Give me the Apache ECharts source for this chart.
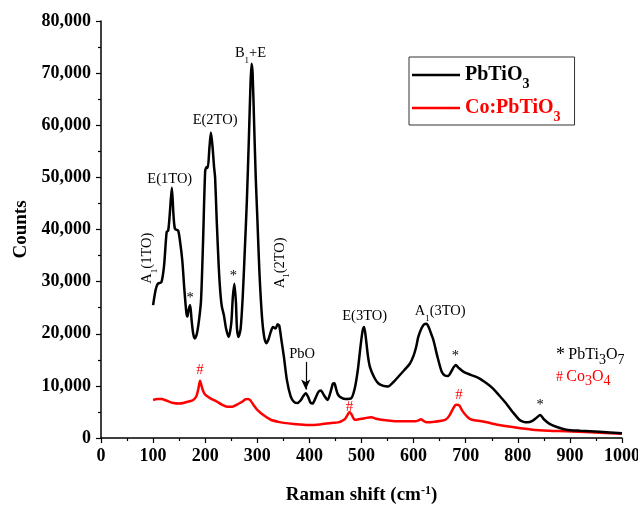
<!DOCTYPE html>
<html>
<head>
<meta charset="utf-8">
<script src="https://cdn.jsdelivr.net/npm/echarts@6/dist/echarts.min.js"></script>
<style>
  html, body { margin: 0; padding: 0; background: #fff; }
  #chart { width: 638px; height: 508px; }
</style>
</head>
<body>
<div id="chart"></div>
<script>
// Raman shift (cm-1) and counts
var pbtShift = [100,105,109,116,121,126,129,132,136,139,142,148,152,156,160,164,166,168,171,174,177,180,184,188,192,196,200,203,205,208,211,214,217,219,222,226,229,232,236,240,245,250,253,256,259,261,264,268,272,276,280,284,287,289,291,294,297,300,304,309,313,317,321,326,330,335,339,342,346,351,357,364,370,377,383,388,393,398,402,406,411,417,422,428,435,440,445,448,451,455,462,470,480,487,493,498,502,505,508,512,516,524,532,542,551,561,571,582,593,600,605,609,615,620,625,630,634,638,646,654,660,666,672,677,681,686,696,710,725,740,751,764,777,790,803,811,819,828,836,843,850,861,875,893,920,957,1000];
var pbtCounts = [25500,28500,29600,29900,33000,39500,39800,43000,48000,43000,40100,39800,37500,34100,28500,23900,23300,24500,25500,22500,20000,19100,20000,22500,26400,38000,51300,52000,51800,55500,58600,56000,52000,50000,42000,32800,28000,25200,23500,21000,19400,22000,27000,29600,26000,21000,19400,21000,27000,36000,45600,58000,68000,71800,70000,60000,50000,42400,32000,23200,19500,18200,18800,20400,21300,21000,21800,21600,19000,15600,11000,8000,7000,6700,7200,8000,8600,7800,6800,6600,7500,8800,9100,8200,7300,8600,10400,10500,9500,8300,7700,7500,7600,9500,13100,17500,20500,21300,19500,16000,13700,11700,10500,10000,9900,10700,11800,13000,14300,15800,17500,19400,21000,21800,21900,21000,19900,18800,15500,12700,12000,11900,12700,13600,14000,13500,12700,12100,11500,10500,9600,8200,6700,5000,3500,3100,3000,3300,3900,4400,3600,2700,2100,1600,1400,1200,900];

var coShift = [100,108,116,125,139,150,158,168,177,183,187,190,193,196,200,210,222,232,242,252,261,270,277,282,287,293,300,313,326,340,351,370,397,420,442,455,461,468,473,477,481,487,495,506,519,528,538,555,571,590,603,610,614,619,625,640,653,661,668,675,680,683,688,693,699,705,712,730,750,764,790,828,860,893,940,1000];
var coCounts = [7300,7500,7500,7200,6700,6600,6700,7000,7300,8000,9500,11000,10000,9000,8300,7600,7000,6400,6000,6000,6400,6900,7400,7500,7200,6300,5400,4300,3500,3100,2900,2700,2500,2600,2900,3000,3200,3600,4400,5000,4500,3500,3600,3800,4000,3700,3500,3300,3200,3200,3200,3400,3600,3300,3000,3100,3300,3500,4200,5500,6300,6400,6200,5300,4500,3900,3500,3200,2800,2500,2100,1600,1400,1300,1100,800];

// peak labels: [shift, counts, text, rotate]
var pbtLabels = [
  [89, 34500, '{t|A}{s|1}{t|(1TO)}', 90],
  [132, 49600, '{t|E(1TO)}', 0],
  [219, 61000, '{t|E(2TO)}', 0],
  [287, 73800, '{t|B}{s|1}{t|+E}', 0],
  [171, 26800, '{t|*}', 0],
  [254, 31000, '{t|*}', 0],
  [343, 33600, '{t|A}{s|1}{t|(2TO)}', 90],
  [386, 16000, '{t|PbO}', 0],
  [506, 23300, '{t|E(3TO)}', 0],
  [651, 24300, '{t|A}{s|1}{t|(3TO)}', 0],
  [680, 15700, '{t|*}', 0],
  [843, 6200, '{t|*}', 0]
];
var coLabels = [
  [190, 13000, '#'],
  [477, 5900, '#'],
  [687, 8200, '#']
];
var pboArrow = [[393, 14600], [393, 9300]];

function zip(a, b) {
  return a.map(function (v, i) { return [v, b[i]]; });
}

function thousands(v) {
  return String(v).replace(/\B(?=(\d{3})+(?!\d))/g, ',');
}

var serif = '"Liberation Serif", "DejaVu Serif", serif';

var chart = echarts.init(document.getElementById('chart'), null, { renderer: 'canvas' });

var axisCommon = {
  axisLine: { show: true, onZero: false, lineStyle: { color: '#000', width: 1.5 } },
  axisTick: { show: true, inside: false, length: 5, lineStyle: { color: '#000', width: 1.2 } },
  minorTick: { show: true, splitNumber: 2, length: 3, lineStyle: { color: '#000', width: 1.2 } },
  splitLine: { show: false },
  axisLabel: { color: '#000', fontFamily: serif, fontWeight: 'bold', fontSize: 18 }
};

function legendRich(color) {
  return {
    b: { fontFamily: serif, fontWeight: 'bold', fontSize: 20, color: color, lineHeight: 22 },
    s: { fontFamily: serif, fontWeight: 'bold', fontSize: 14, color: color, verticalAlign: 'bottom', lineHeight: 22, padding: [0, 0, -5, 0] }
  };
}

chart.setOption({
  animation: false,
  backgroundColor: '#fff',
  grid: { left: 101, right: 16, top: 21, bottom: 70, outerBoundsMode: 'none' },
  legend: {
    orient: 'vertical',
    left: 409,
    top: 57,
    padding: [8, 14, 1, 3],
    itemGap: 7,
    itemWidth: 48,
    itemHeight: 2.5,
    icon: 'rect',
    borderColor: '#333',
    borderWidth: 1,
    data: [
      { name: 'PbTiO3', textStyle: { rich: legendRich('#000') } },
      { name: 'Co:PbTiO3', textStyle: { rich: legendRich('#ff0000') } }
    ],
    formatter: function (name) {
      return '{b|' + name.slice(0, -1) + '}{s|3}';
    }
  },
  xAxis: Object.assign({}, axisCommon, {
    type: 'value',
    min: 0,
    max: 1000,
    interval: 100,
    axisLabel: Object.assign({}, axisCommon.axisLabel, {
      margin: 9,
      formatter: function (v) { return String(v); }
    }),
    name: '{n|Raman shift (cm}{p|-1}{n|)}',
    nameLocation: 'middle',
    nameGap: 47,
    nameTextStyle: {
      rich: {
        n: { fontFamily: serif, fontWeight: 'bold', fontSize: 19, color: '#000' },
        p: { fontFamily: serif, fontWeight: 'bold', fontSize: 12, color: '#000', verticalAlign: 'top', padding: [0, 0, 8, 0] }
      }
    }
  }),
  yAxis: Object.assign({}, axisCommon, {
    type: 'value',
    min: 0,
    max: 80000,
    interval: 10000,
    axisLabel: Object.assign({}, axisCommon.axisLabel, { margin: 10, formatter: thousands }),
    name: 'Counts',
    nameLocation: 'middle',
    nameGap: 70,
    nameTextStyle: { fontFamily: serif, fontWeight: 'bold', fontSize: 19, color: '#000' }
  }),
  series: [
    {
      name: 'PbTiO3',
      type: 'line',
      data: zip(pbtShift, pbtCounts),
      symbol: 'none',
      smooth: 0.25,
      color: '#000',
      lineStyle: { color: '#000', width: 2.5 },
      z: 3,
      markPoint: {
        symbol: 'circle',
        symbolSize: 0,
        label: {
          show: true,
          position: 'inside',
          color: '#000',
          rich: {
            t: { fontFamily: serif, fontSize: 14.5, color: '#000' },
            s: { fontFamily: serif, fontSize: 9, color: '#000', verticalAlign: 'bottom', padding: [0, 0, -4, 0] }
          }
        },
        data: pbtLabels.map(function (d) {
          return { coord: [d[0], d[1]], value: d[2], label: { formatter: d[2], rotate: d[3] } };
        })
      },
      markLine: {
        silent: true,
        symbol: ['none', 'arrow'],
        symbolSize: [7, 10],
        label: { show: false },
        lineStyle: { color: '#000', width: 1.2, type: 'solid' },
        data: [[{ coord: pboArrow[0] }, { coord: pboArrow[1] }]]
      }
    },
    {
      name: 'Co:PbTiO3',
      type: 'line',
      data: zip(coShift, coCounts),
      symbol: 'none',
      smooth: 0.25,
      color: '#ff0000',
      lineStyle: { color: '#ff0000', width: 2.5 },
      z: 2,
      markPoint: {
        symbol: 'circle',
        symbolSize: 0,
        label: {
          show: true,
          position: 'inside',
          fontFamily: serif,
          fontSize: 15,
          color: '#ff0000'
        },
        data: coLabels.map(function (d) {
          return { coord: [d[0], d[1]], value: d[2], label: { formatter: d[2] } };
        })
      }
    }
  ],
  graphic: [
    {
      type: 'text',
      left: 556,
      top: 346,
      style: {
        text: '{k|*} {t|PbTi}{s|3}{t|O}{s|7}',
        rich: {
          k: { fontFamily: serif, fontSize: 18, fill: '#000' },
          t: { fontFamily: serif, fontSize: 16, fill: '#000' },
          s: { fontFamily: serif, fontSize: 14, fill: '#000', verticalAlign: 'bottom', padding: [0, 0, -3, 0] }
        }
      }
    },
    {
      type: 'text',
      left: 556,
      top: 369,
      style: {
        text: '{k|#} {t|Co}{s|3}{t|O}{s|4}',
        rich: {
          k: { fontFamily: serif, fontSize: 14, fill: '#ff0000' },
          t: { fontFamily: serif, fontSize: 16, fill: '#ff0000' },
          s: { fontFamily: serif, fontSize: 14, fill: '#ff0000', verticalAlign: 'bottom', padding: [0, 0, -3, 0] }
        }
      }
    }
  ]
});
</script>
</body>
</html>
